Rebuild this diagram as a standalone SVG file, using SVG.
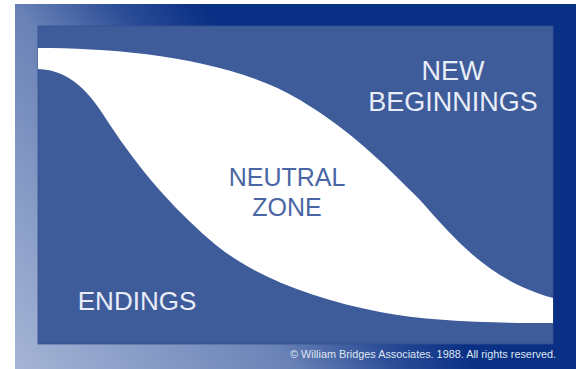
<svg xmlns="http://www.w3.org/2000/svg" width="582" height="369" viewBox="0 0 582 369">
<defs>
<linearGradient id="frameGrad" gradientUnits="userSpaceOnUse" x1="15" y1="369" x2="308" y2="144">
<stop offset="0" stop-color="#a6b5d6"/>
<stop offset="0.6" stop-color="#6982b6"/>
<stop offset="0.82" stop-color="#2c4d97"/>
<stop offset="1" stop-color="#0a3085"/>
</linearGradient>
<style>
.lbl{font-family:"Liberation Sans","DejaVu Sans",sans-serif;text-anchor:middle;}
.light{fill:#e8edf7;}
.dark{fill:#4b66a4;}
</style>
</defs>
<rect x="0" y="0" width="582" height="369" fill="#ffffff"/>
<g id="frame">
<rect x="15" y="4" width="561" height="365" fill="url(#frameGrad)"/>
<rect x="38" y="26" width="515" height="318" fill="#3e5b9a" stroke="#35528f" stroke-width="0.8"/>
</g>
<g id="neutral-zone-shape">
<path d="M38,48 C120,48 230,58 300,100 C350,130 380,160 420,200 C460,245 490,280 553,298 L553,323 C500,323 430,322 380,312 C310,298 250,275 210,240 C170,205 140,170 110,125 C90,92 70,70 38,69 Z" fill="#ffffff"/>
</g>
<g id="new-beginnings">
<text class="lbl light" x="453" y="80" font-size="27">NEW</text>
<text class="lbl light" x="453" y="111" font-size="27">BEGINNINGS</text>
</g>
<g id="neutral-zone">
<text class="lbl dark" x="287" y="186" font-size="25">NEUTRAL</text>
<text class="lbl dark" x="287" y="216" font-size="25">ZONE</text>
</g>
<g id="endings">
<text class="lbl light" x="137" y="310" font-size="26">ENDINGS</text>
</g>
<g id="connectors"></g>
<text x="290" y="358" font-family="'Liberation Sans','DejaVu Sans',sans-serif" font-size="10.5" fill="#dfe6f2" textLength="266" lengthAdjust="spacingAndGlyphs">© William Bridges Associates. 1988. All rights reserved.</text>
</svg>
